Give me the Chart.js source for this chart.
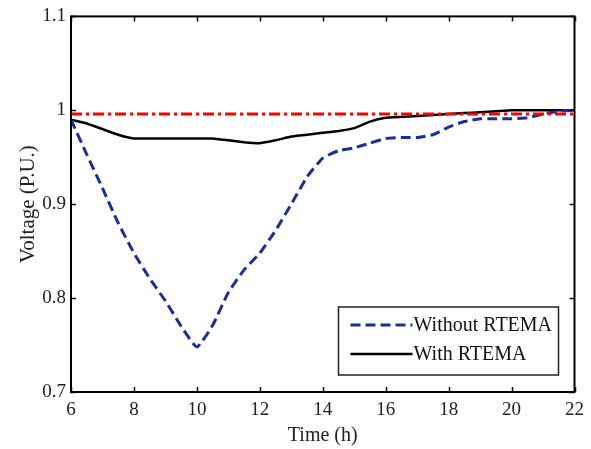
<!DOCTYPE html>
<html>
<head>
<meta charset="utf-8">
<script src="https://cdn.jsdelivr.net/npm/chart.js@4.4.1/dist/chart.umd.min.js"></script>
<style>
  html, body { margin: 0; padding: 0; background: #fff; }
  canvas { display: block; }
</style>
</head>
<body>
<canvas id="voltChart" width="591" height="449"></canvas>
<script>
// --- Data ---
const hours = [6, 6.5, 7, 7.5, 8, 8.5, 9, 9.5, 10, 10.5, 11, 11.5, 12, 12.5, 13, 13.5, 14,
  14.5, 15, 15.5, 16, 16.5, 17, 17.5, 18, 18.5, 19, 19.5, 20, 20.5, 21, 21.5, 22];

const withoutRtema = [0.99, 0.953, 0.917, 0.88, 0.848, 0.821, 0.797, 0.77, 0.748, 0.771, 0.806,
  0.83, 0.848, 0.872, 0.9, 0.929, 0.949, 0.957, 0.96, 0.965, 0.97, 0.971, 0.971, 0.974, 0.982,
  0.988, 0.991, 0.991, 0.991, 0.992, 0.996, 0.999, 1.0];

const withRtema = [0.99, 0.986, 0.98, 0.974, 0.97, 0.97, 0.97, 0.97, 0.97, 0.97, 0.968,
  0.966, 0.965, 0.968, 0.972, 0.974, 0.976, 0.978, 0.981, 0.988, 0.992, 0.993, 0.994, 0.995,
  0.996, 0.997, 0.998, 0.999, 1.0, 1.0, 1.0, 1.0, 1.0];

const refHours = [6, 22];
const refLevel = 0.996;

const yTickLabels = ["0.7", "0.8", "0.9", "1", "1.1"];
const seriesNames = ["Without RTEMA", "With RTEMA"];

const SERIF = "'Liberation Serif', 'Times New Roman', serif";

function toPoints(xs, ys) {
  return xs.map((x, i) => ({ x, y: ys[i] }));
}

// --- Frame and inward tick marks on all four sides ---
const framePlugin = {
  id: "frame",
  afterDatasetsDraw(chart) {
    const { ctx, chartArea: a, scales } = chart;
    const len = 5;
    ctx.save();
    ctx.strokeStyle = "#111";
    ctx.lineWidth = 1.5;
    ctx.beginPath();
    scales.x.ticks.forEach((t) => {
      const px = Math.round(scales.x.getPixelForValue(t.value)) + 0.5;
      ctx.moveTo(px, a.bottom); ctx.lineTo(px, a.bottom - len);
      ctx.moveTo(px, a.top); ctx.lineTo(px, a.top + len);
    });
    scales.y.ticks.forEach((t) => {
      const py = Math.round(scales.y.getPixelForValue(t.value)) + 0.5;
      ctx.moveTo(a.left, py); ctx.lineTo(a.left + len, py);
      ctx.moveTo(a.right, py); ctx.lineTo(a.right - len, py);
    });
    ctx.stroke();
    ctx.lineWidth = 2;
    ctx.strokeStyle = "#000";
    ctx.strokeRect(a.left, a.top, a.right - a.left, a.bottom - a.top);
    ctx.restore();
  }
};

// --- Boxed legend in the lower right corner of the plot ---
const boxLegendPlugin = {
  id: "boxLegend",
  afterDraw(chart) {
    const { ctx, chartArea: a } = chart;
    const w = 220, h = 68;
    const bx = a.right - 16 - w;
    const by = a.bottom - 17 - h;
    ctx.save();
    ctx.fillStyle = "#fff";
    ctx.fillRect(bx, by, w, h);
    ctx.strokeStyle = "#222";
    ctx.lineWidth = 1.5;
    ctx.strokeRect(bx, by, w, h);

    const rows = chart.data.datasets.filter((ds) => seriesNames.includes(ds.label));
    rows.forEach((ds, i) => {
      const y = by + 18 + i * 29;
      ctx.beginPath();
      ctx.strokeStyle = ds.borderColor;
      ctx.lineWidth = ds.borderWidth;
      ctx.setLineDash(ds.borderDash || []);
      ctx.moveTo(bx + 12, y);
      ctx.lineTo(bx + 74, y);
      ctx.stroke();
      ctx.setLineDash([]);
      ctx.fillStyle = "#111";
      ctx.font = "20px " + SERIF;
      ctx.textBaseline = "middle";
      ctx.textAlign = "left";
      ctx.fillText(ds.label, bx + 75, y + 1);
    });
    ctx.restore();
  }
};

// --- Chart ---
new Chart(document.getElementById("voltChart"), {
  type: "line",
  data: {
    datasets: [
      {
        label: "Reference",
        data: toPoints(refHours, [refLevel, refLevel]),
        borderColor: "#ff0000",
        borderWidth: 3,
        borderDash: [11, 4, 3, 4],
        pointRadius: 0,
        order: 0
      },
      {
        label: seriesNames[0],
        data: toPoints(hours, withoutRtema),
        borderColor: "#1c2d9c",
        borderWidth: 3,
        borderDash: [10, 5],
        pointRadius: 0,
        tension: 0.15,
        order: 1
      },
      {
        label: seriesNames[1],
        data: toPoints(hours, withRtema),
        borderColor: "#000000",
        borderWidth: 2.5,
        pointRadius: 0,
        tension: 0.1,
        order: 2
      }
    ]
  },
  options: {
    responsive: false,
    animation: false,
    layout: { padding: { top: 15, right: 15, left: 0, bottom: 0 } },
    plugins: {
      legend: { display: false },
      tooltip: { enabled: false }
    },
    scales: {
      x: {
        type: "linear",
        min: 6,
        max: 22,
        afterFit: (s) => { s.height = 57; },
        ticks: { stepSize: 2, padding: 7, color: "#222", font: { family: SERIF, size: 19 } },
        grid: { display: false, drawTicks: false },
        border: { display: false },
        title: {
          display: true,
          text: "Time (h)",
          color: "#222",
          font: { family: SERIF, size: 20 },
          padding: { top: 0, bottom: 1 }
        }
      },
      y: {
        min: 0.7,
        max: 1.1,
        afterFit: (s) => { s.width = 71; },
        ticks: {
          stepSize: 0.1,
          padding: 5,
          color: "#222",
          font: { family: SERIF, size: 19 },
          callback: (v, i) => yTickLabels[i]
        },
        grid: { display: false, drawTicks: false },
        border: { display: false },
        title: {
          display: true,
          text: "Voltage (P.U.)",
          color: "#222",
          font: { family: SERIF, size: 21 },
          padding: { top: 16, bottom: 0 }
        }
      }
    }
  },
  plugins: [framePlugin, boxLegendPlugin]
});
</script>
</body>
</html>
